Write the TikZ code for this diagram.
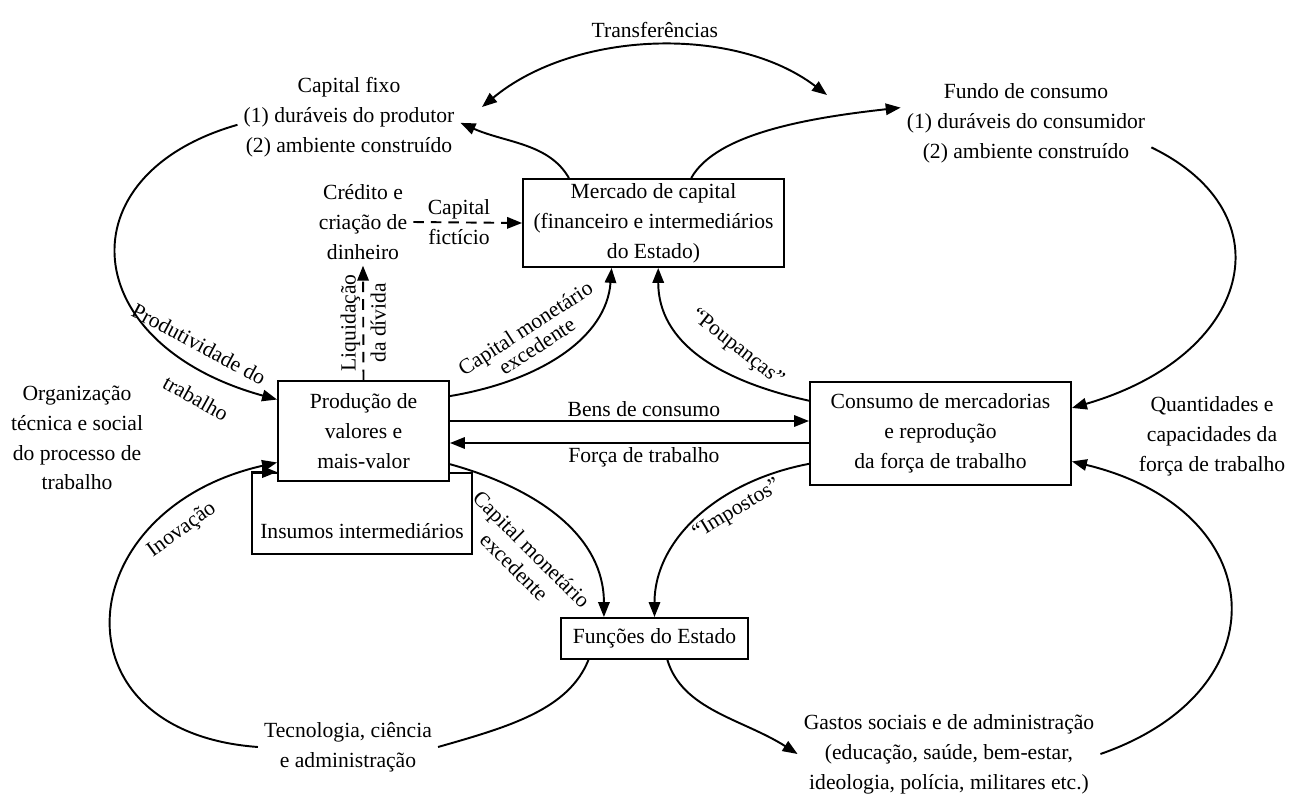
\documentclass[tikz,border=0pt]{standalone}
\usepackage{fontspec}
\setmainfont{Liberation Serif}
\usetikzlibrary{arrows.meta}

\begin{document}
\begin{tikzpicture}[x=0.02cm, y=-0.02cm,
    font=\fontsize{12.3}{17}\selectfont,
    line/.style={line width=1.1pt},
    box/.style={draw, line width=1.1pt, fill=white, align=center, inner sep=0pt},
    txt/.style={align=center},
    lbl/.style={align=center, inner sep=2pt},
    flow/.style={line, -{Triangle[length=8.5pt,width=6.5pt]}},
    both/.style={line, {Triangle[length=8.5pt,width=6.5pt]}-{Triangle[length=8.5pt,width=6.5pt]}},
    dflow/.style={flow, dash pattern=on 6pt off 4pt}]
    \useasboundingbox (0,0) rectangle (1296,798);

    % Boxes
    \node[box, minimum width=4.4cm, text height=1.3cm, text depth=0.32cm] (ins) at (362,513.5) {Insumos intermediários};
    \node[box, minimum width=3.42cm, minimum height=2cm] (prod) at (363.5,431) {Produção de\\valores e\\mais-valor};
    \node[box, minimum width=5.22cm, minimum height=1.76cm] (merc) at (653.5,223) {Mercado de capital\\(financeiro e intermediários\\do Estado)};
    \node[box, minimum width=5.22cm, minimum height=2.06cm] (cons) at (940.5,433.5) {Consumo de mercadorias\\e reprodução\\da força de trabalho};
    \node[box, minimum width=3.74cm, minimum height=0.82cm] (fun) at (654.5,638.5) {Funções do Estado};

    % Free texts
    \node[txt] (capfixo) at (349,117) {Capital fixo\\(1) duráveis do produtor\\(2) ambiente construído};
    \node[txt] (fundo) at (1026,123) {Fundo de consumo\\(1) duráveis do consumidor\\(2) ambiente construído};
    \node[txt] (credito) at (363,222) {Crédito e\\criação de\\dinheiro};
    \node[txt] (org) at (77,438) {Organização\\técnica e social\\do processo de\\trabalho};
    \node[txt] (quant) at (1212,436) {Quantidades e\\capacidades da\\força de trabalho};
    \node[txt] (tecno) at (348,747) {Tecnologia, ciência\\e administração};
    \node[txt] (gastos) at (949,754) {Gastos sociais e de administração\\(educação, saúde, bem-estar,\\ideologia, polícia, militares etc.)};

    % Insumos loop back into production
    \draw[flow] (ins.north west) -- (prod.west |- ins.north);

    % Exchanges between production and consumption
    \draw[flow] ([yshift=0.2cm]prod.east) -- node[lbl, above, pos=0.54] (bens) {Bens de consumo} ([yshift=0.2cm]prod.east -| cons.west);
    \draw[flow] ([yshift=-0.24cm]prod.east -| cons.west) -- node[lbl, below, pos=0.46] (forca) {Força de trabalho} ([yshift=-0.24cm]prod.east);

    % Credit
    \draw[dflow] (credito.east) -- node[lbl, pos=0.42] (fict) {Capital\\fictício} (merc.west);
    \draw[dflow] (prod.north) -- node[lbl, rotate=90] (liq) {Liquidação\\da dívida} (credito.south);

    % Surplus money capital, savings, taxes
    \draw[flow] (prod.22) .. controls +(90,-15) and +(-5,70) .. (merc.227);
    \draw[flow] (cons.166) .. controls +(-90,-20) and +(0,75) .. (merc.276);
    \draw[flow] (prod.-21) .. controls +(90,25) and +(0,-80) .. (fun.157);
    \draw[flow] (cons.193) .. controls +(-90,17) and +(0,-78) .. (fun.north);
    \node[lbl, rotate=33] (cme1) at (531,337) {Capital monetário\\[-5pt]excedente};
    \node[lbl, rotate=-45] (cme2) at (523,558) {Capital monetário\\[-3pt]excedente};
    \node[lbl, rotate=-38] (poup) at (737,348) {“Poupanças”};
    \node[lbl, rotate=31] (imp) at (737,510) {“Impostos”};

    % Fixed capital and consumption fund
    \draw[flow] (merc.152) .. controls +(-20,-35) and +(45,20) .. (capfixo.-3);
    \draw[flow] (merc.50) .. controls +(25,-45) and +(-90,10) .. (fundo.173);
    \coordinate (trA) at (482,107);
    \coordinate (trB) at (827,95);
    \draw[both] (trA) .. controls (575,30) and (735,25) .. node[lbl, above=2pt] (transf) {Transferências} (trB);

    % Outer loops
    \draw[flow] (capfixo.184) .. controls +(-175,50) and +(-200,-55) .. (prod.160);
    \node[lbl, rotate=-28] (prodt1) at (199,344) {Produtividade do};
    \node[lbl, rotate=-29] (prodt2) at (196,398) {trabalho};
    \draw[flow] (tecno.west) .. controls +(-208,-15) and +(-208,47) .. (prod.200);
    \node[lbl, rotate=36] (inov) at (182,530) {Inovação};
    \draw[line] (fun.198) .. controls +(-20,50) and +(70,-20) .. (tecno.east);
    \draw[flow] (fun.301) .. controls +(15,50) and +(-55,-35) .. (gastos.west);
    \draw[flow] (gastos.east) .. controls +(184,-64) and +(199,48) .. (cons.-12);
    \draw[flow] (fundo.-11) .. controls +(138,67) and +(179,-52) .. (cons.11);
\end{tikzpicture}
\end{document}
